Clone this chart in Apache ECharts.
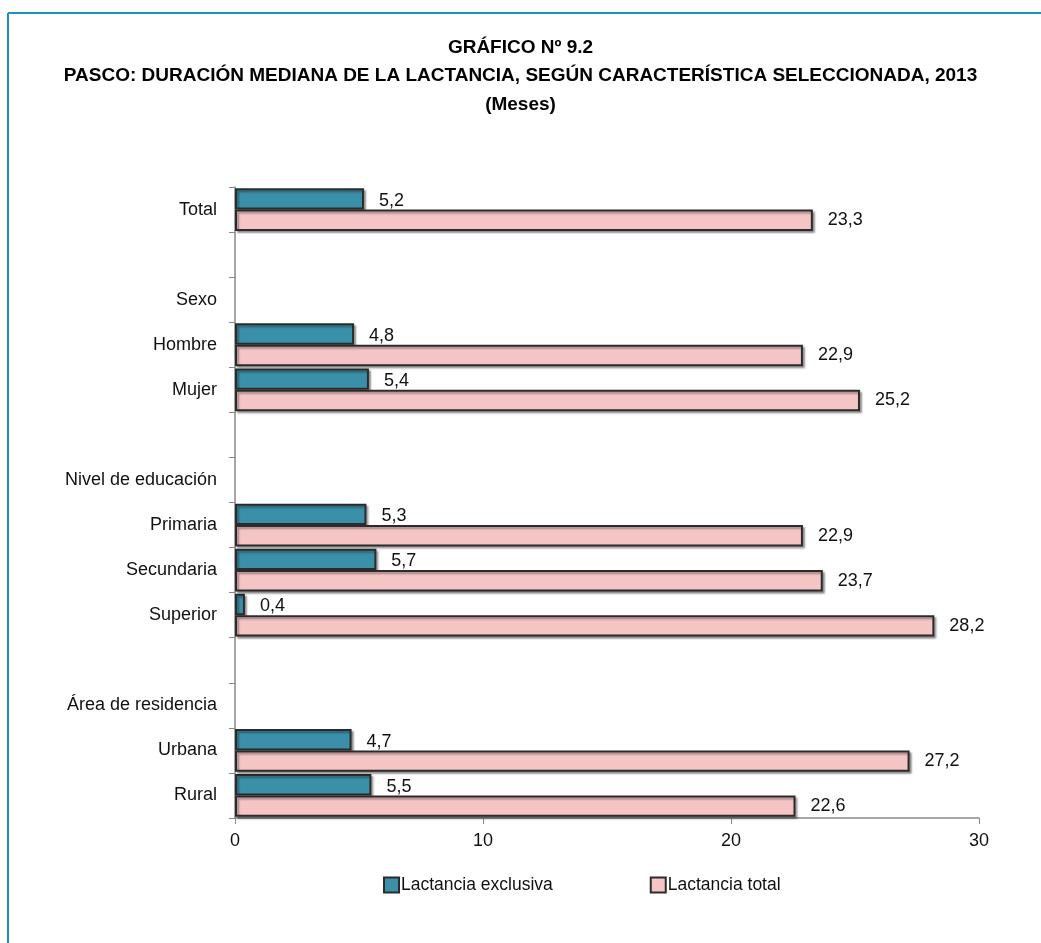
<!DOCTYPE html>
<html>
<head>
<meta charset="utf-8">
<script src="https://cdn.jsdelivr.net/npm/echarts@6/dist/echarts.min.js"></script>
<style>
html,body{margin:0;padding:0;background:#fff;}
#c{width:1041px;height:943px;}
</style>
</head>
<body>
<div id="c"></div>
<script>
const categories = ['Total', ' ', 'Sexo', 'Hombre', 'Mujer', '  ', 'Nivel de educación', 'Primaria', 'Secundaria', 'Superior', '   ', 'Área de residencia', 'Urbana', 'Rural'];
const exclusiva = [5.2, null, null, 4.8, 5.4, null, null, 5.3, 5.7, 0.4, null, null, 4.7, 5.5];
const total = [23.3, null, null, 22.9, 25.2, null, null, 22.9, 23.7, 28.2, null, null, 27.2, 22.6];
const seriesNames = ['Lactancia exclusiva', 'Lactancia total'];
const titleLines = ['GRÁFICO Nº 9.2', 'PASCO: DURACIÓN MEDIANA DE LA LACTANCIA, SEGÚN CARACTERÍSTICA SELECCIONADA, 2013', '(Meses)'];

const chart = echarts.init(document.getElementById('c'), null, {renderer: 'canvas'});
const FONT = '"Liberation Sans", Arial, sans-serif';
const fmt = p => (p.value == null ? '' : p.value.toFixed(1).replace('.', ','));

const barStyle = color => ({
  color: color,
  borderColor: '#2b2b2b',
  borderWidth: 2,
  shadowColor: 'rgba(0,0,0,0.35)',
  shadowBlur: 2,
  shadowOffsetX: 2,
  shadowOffsetY: 2
});

chart.setOption({
  backgroundColor: '#fff',
  animation: false,
  graphic: [
    {type: 'line', shape: {x1: 8, y1: 13, x2: 1041, y2: 13}, style: {stroke: '#1f8fbf', lineWidth: 2}},
    {type: 'line', shape: {x1: 8, y1: 13, x2: 8, y2: 943}, style: {stroke: '#1f8fbf', lineWidth: 2}},
    {type: 'text', left: 'center', top: 38, style: {text: titleLines[0], font: 'bold 19px ' + FONT, fill: '#000'}},
    {type: 'text', left: 'center', top: 66, style: {text: titleLines[1], font: 'bold 19px ' + FONT, fill: '#000'}},
    {type: 'text', left: 'center', top: 95, style: {text: titleLines[2], font: 'bold 19px ' + FONT, fill: '#000'}}
  ],
  legend: {
    left: 378,
    top: 871,
    itemGap: 97,
    itemWidth: 15,
    itemHeight: 15,
    icon: 'rect',
    textStyle: {fontFamily: FONT, fontSize: 17.5, color: '#111', padding: [0, 0, 0, -3]},
    data: seriesNames
  },
  grid: {left: 235, right: 62, top: 187, bottom: 125, containLabel: false},
  xAxis: {
    type: 'value',
    min: 0,
    max: 30,
    interval: 10,
    axisLine: {show: true, lineStyle: {color: '#888', width: 1.5}},
    axisTick: {show: true, length: 6, lineStyle: {color: '#888'}},
    splitLine: {show: false},
    axisLabel: {fontFamily: FONT, fontSize: 18, color: '#111', margin: 14}
  },
  yAxis: {
    type: 'category',
    inverse: true,
    data: categories,
    axisLine: {show: true, lineStyle: {color: '#888', width: 1.5}},
    axisTick: {show: true, length: 6, lineStyle: {color: '#888'}},
    axisLabel: {fontFamily: FONT, fontSize: 18, color: '#111', margin: 18}
  },
  series: [
    {
      name: seriesNames[0],
      type: 'bar',
      data: exclusiva,
      barGap: '0%',
      barCategoryGap: '5%',
      itemStyle: barStyle('#3a90a9'),
      label: {show: true, position: 'right', distance: 15, offset: [0, 2], formatter: fmt, fontFamily: FONT, fontSize: 18, color: '#111'}
    },
    {
      name: seriesNames[1],
      type: 'bar',
      data: total,
      barGap: '0%',
      barCategoryGap: '5%',
      itemStyle: barStyle('#f5c4c5'),
      label: {show: true, position: 'right', distance: 15, formatter: fmt, fontFamily: FONT, fontSize: 18, color: '#111'}
    }
  ]
});
</script>
</body>
</html>
